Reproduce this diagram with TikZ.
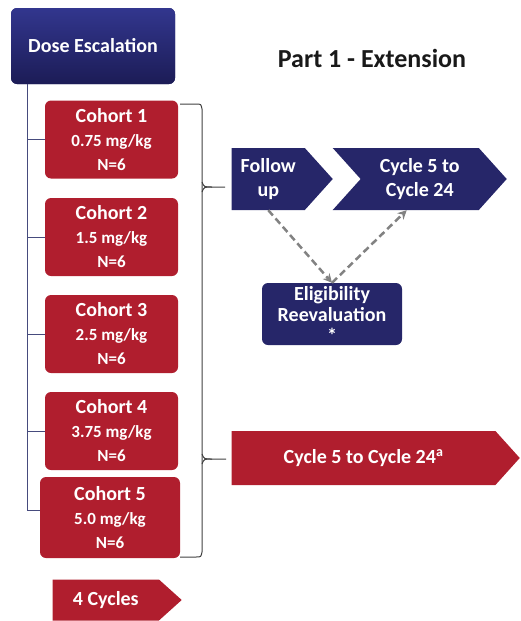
\documentclass[tikz,border=0pt]{standalone}
\usepackage{fontspec}
\setmainfont{Carlito}
\usetikzlibrary{shapes.symbols,arrows.meta}
\definecolor{navy}{RGB}{38,38,105}
\definecolor{navytop}{RGB}{50,54,142}
\definecolor{navybot}{RGB}{28,28,86}
\definecolor{cohortred}{RGB}{176,30,46}
\definecolor{dashgrey}{RGB}{130,130,130}
\definecolor{treeline}{RGB}{70,75,125}
\begin{document}
\begin{tikzpicture}[x=1pt,y=-1pt,
  cohort/.style={rectangle, rounded corners=6pt, fill=cohortred, text=white, font=\fontsize{17}{24}\selectfont\bfseries, align=center, minimum width=133pt, minimum height=78pt, inner sep=0pt},
  navybox/.style={rectangle, rounded corners=6pt, fill=navy, text=white, font=\fontsize{20}{21}\selectfont\bfseries, align=center, inner sep=0pt},
  arrowbox/.style={signal, signal to=east, signal pointer angle=96, text=white, font=\fontsize{20}{24}\selectfont\bfseries, align=center, inner sep=0pt},
  dasharrow/.style={draw=dashgrey, line width=2.5pt, dash pattern=on 7pt off 4pt, -{Stealth[length=9pt,width=9pt]}},
  tree/.style={draw=treeline, line width=1pt},
  brace/.style={draw=black!75, line width=1pt}]
\useasboundingbox (0,0) rectangle (520,621);
\node[navybox, top color=navytop, bottom color=navybot, minimum width=164pt, minimum height=76pt] (dose) at (93,46){Dose Escalation};
\node[font=\fontsize{26}{30}\selectfont\bfseries, text=black!90] (title) at (372,58){Part 1 - Extension};
\node[cohort] (c1) at (111.5,139.5){{\fontsize{20}{24}\selectfont Cohort 1}\\0.75 mg/kg\\N=6};
\node[cohort] (c2) at (111.5,237){{\fontsize{20}{24}\selectfont Cohort 2}\\1.5 mg/kg\\N=6};
\node[cohort] (c3) at (111.5,334){{\fontsize{20}{24}\selectfont Cohort 3}\\2.5 mg/kg\\N=6};
\node[cohort] (c4) at (111.5,431){{\fontsize{20}{24}\selectfont Cohort 4}\\3.75 mg/kg\\N=6};
\node[cohort, minimum width=140pt, minimum height=81pt] (c5) at (110,517.5){{\fontsize{20}{24}\selectfont Cohort 5}\\5.0 mg/kg\\N=6};
\coordinate (trunk) at (27,84);
\coordinate (root5) at (27,510);
\draw[tree](trunk) -- (root5) -- (root5 -| c5.west);
\draw[tree](trunk |- c1.west) -- (c1.west);
\draw[tree](trunk |- c2.west) -- (c2.west);
\draw[tree](trunk |- c3.west) -- (c3.west);
\draw[tree](trunk |- c4.west) -- (c4.west);
\draw[brace](180,104) -- (196,104) .. controls (201,104) .. (202,109) -- (202,552) .. controls (201,557) .. (196,557) -- (180,557);
\draw[brace](202,182) .. controls (204,187) .. (212,187) -- (225,187);
\draw[brace](202,192) .. controls (204,187) .. (212,187);
\draw[brace](202,454) .. controls (204,459) .. (212,459) -- (226,459);
\draw[brace](202,464) .. controls (204,459) .. (212,459);
\node[arrowbox, fill=navy, minimum width=101pt, minimum height=62pt, anchor=east] (fu) at (333,179){Follow\\up};
\node[arrowbox, signal from=west, fill=navy, minimum width=174pt, minimum height=62pt, anchor=east] (cyc) at (507,179){Cycle 5 to\\Cycle 24};
\node[navybox, minimum width=140pt, minimum height=62pt] (elig) at (332,314){Eligibility\\Reevaluation\\*};
\draw[dasharrow](fu.south) -- (elig.north);
\draw[dasharrow](elig.north) -- ([xshift=-13pt]cyc.south);
\node[arrowbox, fill=cohortred, minimum width=288pt, minimum height=54pt, anchor=east] (ext) at (520,458){Cycle 5 to Cycle 24\textsuperscript{a}};
\node[arrowbox, fill=cohortred, signal pointer angle=84, minimum width=129pt, minimum height=41pt, anchor=east] (four) at (182,600){4 Cycles};
\end{tikzpicture}
\end{document}
